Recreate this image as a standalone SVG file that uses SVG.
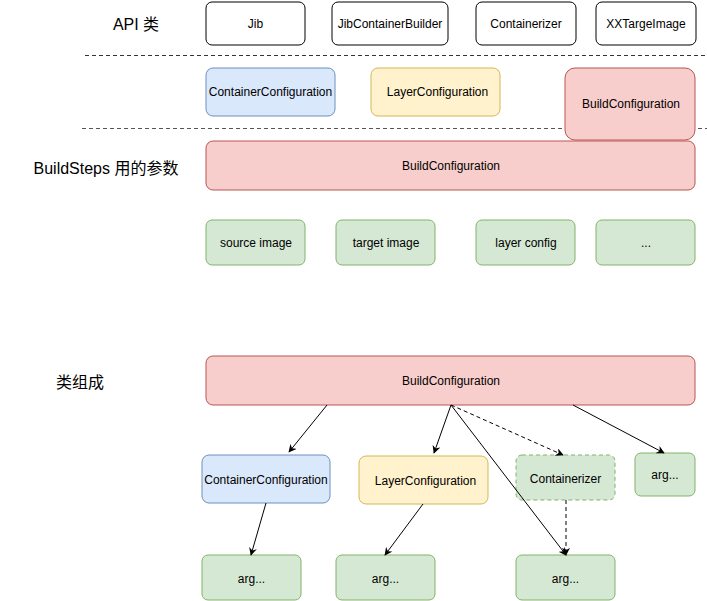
<svg xmlns="http://www.w3.org/2000/svg" width="707" height="601" viewBox="0 0 707 601">
<defs>
<style>
.w{fill:#ffffff;stroke:#000000;stroke-width:1}
.b{fill:#dae8fc;stroke:#6c8ebf;stroke-width:1}
.y{fill:#fff2cc;stroke:#d6b656;stroke-width:1}
.r{fill:#f8cecc;stroke:#b85450;stroke-width:1}
.g{fill:#d5e8d4;stroke:#82b366;stroke-width:1}
.t{font-family:"Liberation Sans",Arial,sans-serif;font-size:12px;fill:#000;text-anchor:middle;dominant-baseline:central}
.h{font-family:"Liberation Sans","Noto Sans CJK SC",sans-serif;font-size:16px;fill:#000;text-anchor:middle;dominant-baseline:central}
.c{stroke:#000;stroke-width:1;fill:none}
.d{stroke-dasharray:4 3}
</style>
<marker id="a" viewBox="0 0 10 10" refX="9" refY="5" markerWidth="8" markerHeight="8" orient="auto" markerUnits="userSpaceOnUse">
<path d="M0,0 L10,5 L0,10 L3,5 Z" fill="#000"/>
</marker>
</defs>
<rect width="707" height="601" fill="#fff"/>
<g id="labels">
<text class="h" x="136" y="24">API 类</text>
<text class="h" x="106" y="168">BuildSteps 用的参数</text>
<text class="h" x="80" y="382">类组成</text>
</g>
<g id="separators">
<line x1="85" y1="55.5" x2="707" y2="55.5" stroke="#333" stroke-dasharray="4 3"/>
<line x1="82" y1="128.5" x2="707" y2="128.5" stroke="#555" stroke-dasharray="4 3"/>
</g>
<g id="api-jib"><rect class="w" x="206" y="2" width="99" height="43" rx="6"/><text class="t" x="255.5" y="23.5">Jib</text></g>
<g id="api-jcb"><rect class="w" x="332" y="2" width="116" height="43" rx="6"/><text class="t" x="390" y="23.5">JibContainerBuilder</text></g>
<g id="api-containerizer"><rect class="w" x="476" y="2" width="100" height="43" rx="6"/><text class="t" x="526" y="23.5">Containerizer</text></g>
<g id="api-xx"><rect class="w" x="596" y="2" width="100" height="43" rx="6"/><text class="t" x="646" y="23.5">XXTargeImage</text></g>
<g id="api-cc"><rect class="b" x="206" y="68" width="129" height="48" rx="7"/><text class="t" x="270.5" y="92">ContainerConfiguration</text></g>
<g id="api-lc"><rect class="y" x="371" y="68" width="129" height="48" rx="7"/><text class="t" x="437.5" y="92">LayerConfiguration</text></g>
<g id="api-bc"><rect class="r" x="565" y="68" width="130" height="72" rx="10"/><text class="t" x="631" y="104">BuildConfiguration</text></g>
<g id="steps-bc"><rect class="r" x="206" y="141" width="489" height="49" rx="7"/><text class="t" x="451" y="165.5">BuildConfiguration</text></g>
<g id="steps-src"><rect class="g" x="206" y="220" width="99" height="45" rx="6"/><text class="t" x="256" y="243">source image</text></g>
<g id="steps-tgt"><rect class="g" x="336" y="220" width="99" height="45" rx="6"/><text class="t" x="386" y="243">target image</text></g>
<g id="steps-layer"><rect class="g" x="476" y="220" width="99" height="45" rx="6"/><text class="t" x="526" y="243">layer config</text></g>
<g id="steps-more"><rect class="g" x="596" y="220" width="99" height="45" rx="6"/><text class="t" x="646" y="243">...</text></g>
<g id="comp-bc"><rect class="r" x="206" y="356" width="489" height="49" rx="7"/><text class="t" x="451" y="380.5">BuildConfiguration</text></g>
<g id="comp-cc"><rect class="b" x="202" y="455" width="128" height="48" rx="7"/><text class="t" x="266" y="479.5">ContainerConfiguration</text></g>
<g id="comp-lc"><rect class="y" x="359" y="456" width="129" height="48" rx="7"/><text class="t" x="425.5" y="480.5">LayerConfiguration</text></g>
<g id="comp-containerizer"><rect class="g d" x="516" y="455" width="99" height="45" rx="6"/><text class="t" x="565.5" y="478.5">Containerizer</text></g>
<g id="comp-arg-r"><rect class="g" x="635" y="453" width="60" height="43" rx="6"/><text class="t" x="665" y="475">arg...</text></g>
<g id="comp-arg1"><rect class="g" x="202" y="555" width="99" height="45" rx="6"/><text class="t" x="251.5" y="578.5">arg...</text></g>
<g id="comp-arg2"><rect class="g" x="336" y="555" width="99" height="45" rx="6"/><text class="t" x="385.5" y="578.5">arg...</text></g>
<g id="comp-arg3"><rect class="g" x="516" y="555" width="99" height="45" rx="6"/><text class="t" x="565.5" y="578.5">arg...</text></g>
<g id="connectors">
<line class="c" x1="327" y1="405" x2="289" y2="452" marker-end="url(#a)"/>
<line class="c" x1="451" y1="405" x2="434" y2="453" marker-end="url(#a)"/>
<line class="c d" x1="451" y1="405" x2="563" y2="455" marker-end="url(#a)"/>
<line class="c" x1="451" y1="405" x2="566" y2="555" marker-end="url(#a)"/>
<line class="c" x1="573" y1="405" x2="664" y2="453" marker-end="url(#a)"/>
<line class="c" x1="266" y1="503" x2="251" y2="555" marker-end="url(#a)"/>
<line class="c" x1="423" y1="504" x2="385" y2="555" marker-end="url(#a)"/>
<line class="c d" x1="566" y1="500" x2="566" y2="555" marker-end="url(#a)"/>
</g>
</svg>
